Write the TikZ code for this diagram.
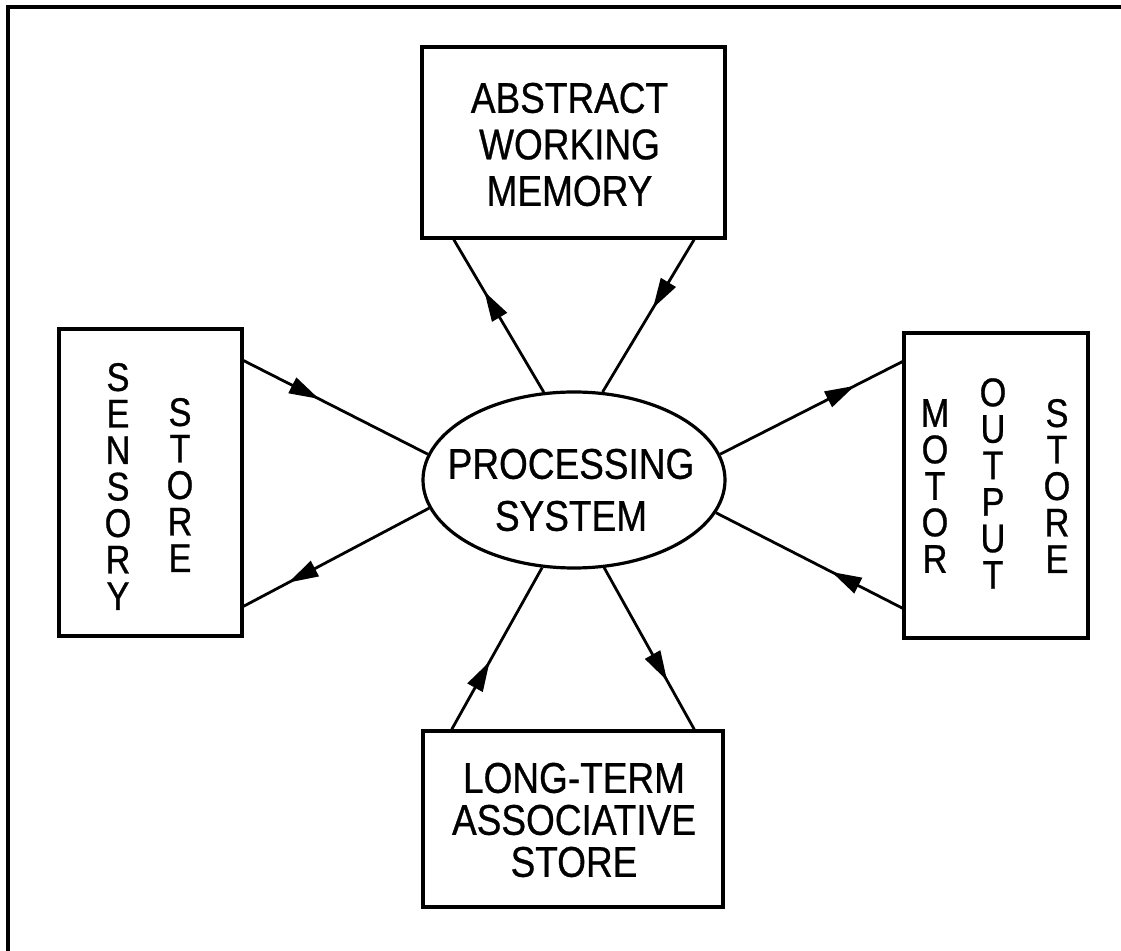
\documentclass[tikz,border=0pt]{standalone}
\usepackage{fontspec}
\setmainfont{Liberation Sans}[FakeStretch=0.86,FakeBold=0.7]
\usetikzlibrary{shapes.geometric,arrows.meta,decorations.markings,calc}
\tikzset{
  box/.style={draw, line width=1.6pt, rectangle, inner sep=0pt},
  label/.style={inner sep=0pt, align=center},
  vlabel/.style={inner sep=0pt, align=center, font=\fontsize{20}{18.25}\selectfont},
  conn/.style={line width=1.4pt},
  midarrow/.style={postaction={decorate}, decoration={markings,
      mark=at position #1 with {\arrow{Triangle[length=15pt,width=8.5pt]}}}}
}
\begin{document}
\begin{tikzpicture}[x=0.5pt,y=-0.5pt]
\useasboundingbox (0,0) rectangle (1121,951);
% outer frame (cut at right and bottom)
\draw[line width=2pt] (8,951) -- (8,7.5) -- (1121,7.5);

% boxes
\node[box, minimum width=151.5pt, minimum height=95.5pt] (awm) at (573.5,142.5) {};
\node[box, minimum width=91.5pt, minimum height=153.5pt] (sens) at (150.5,482.5) {};
\node[box, minimum width=92pt, minimum height=152.5pt] (motor) at (996,485.5) {};
\node[box, minimum width=150pt, minimum height=88pt] (ltas) at (573,819) {};
\node[draw, line width=1.6pt, ellipse, inner sep=0pt, minimum width=151pt, minimum height=88pt] (ps) at (574,480) {};

% texts
\node[label, font=\fontsize{21.5}{23.25}\selectfont] (awmtext) at (569.5,144.5) {ABSTRACT\\WORKING\\MEMORY};
\node[label, font=\fontsize{21.5}{26}\selectfont] (pstext) at (571,490) {PROCESSING\\SYSTEM};
\node[label, font=\fontsize{21.5}{21}\selectfont] (ltastext) at (574,820) {LONG-TERM\\ASSOCIATIVE\\STORE};
\node[vlabel] (s1) at (118,486.5) {S\\E\\N\\S\\O\\R\\Y};
\node[vlabel] (s2) at (180,485) {S\\T\\O\\R\\E};
\node[vlabel] (m1) at (935,486) {M\\O\\T\\O\\R};
\node[vlabel] (m2) at (993,483.5) {O\\U\\T\\P\\U\\T};
\node[vlabel] (m3) at (1057,486) {S\\T\\O\\R\\E};

% connectors
\draw[conn, midarrow=0.66] (ps.109.2) -- ($(awm.south west)!0.109!(awm.south east)$);
\draw[conn, midarrow=0.45] ($(awm.south west)!0.894!(awm.south east)$) -- (ps.72);
\draw[conn, midarrow=0.41] ($(sens.north east)!0.107!(sens.south east)$) -- (ps.170.1);
\draw[conn, midarrow=0.76] (ps.191.4) -- ($(sens.north east)!0.899!(sens.south east)$);
\draw[conn, midarrow=0.74] (ps.10.3) -- ($(motor.north west)!0.098!(motor.south west)$);
\draw[conn, midarrow=0.38] ($(motor.north west)!0.898!(motor.south west)$) -- (ps.347.5);
\draw[conn, midarrow=0.42] ($(ltas.north west)!0.1!(ltas.north east)$) -- (ps.250.6);
\draw[conn, midarrow=0.70] (ps.289.4) -- ($(ltas.north west)!0.9!(ltas.north east)$);
\end{tikzpicture}
\end{document}
